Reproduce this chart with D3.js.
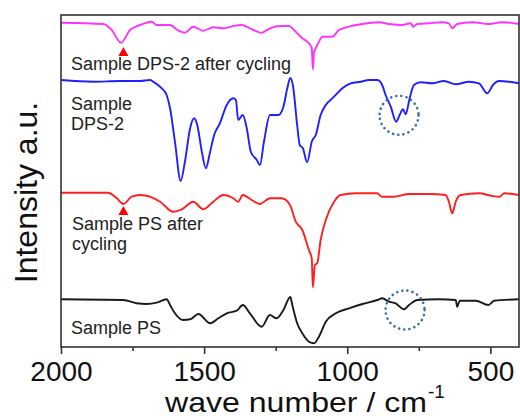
<!DOCTYPE html>
<html><head><meta charset="utf-8">
<script src="https://cdn.jsdelivr.net/npm/d3@7"></script>
<style>body{margin:0;background:#fff}svg{display:block}</style>
</head><body><svg id="c" width="520" height="419"></svg>
<script>
// ---- data (wave number in cm^-1, intensity in offset a.u.) ----
const xTicks = [2000, 1500, 1000, 500];
const xMinorTicks = [1750, 1250, 750];

const dps2CycWn  = [2000,1852,1823,1790,1759,1724,1683,1666,1619,1590,1567,1538,1503,1468,1433,1398,1369,1340,1299,1270,1235,1203,1186,1157,1134,1124,1120,1116,1113,1099,1087,1052,1029,994,947,889,854,808,778,770,755,714,668,645,633,616,563,505,458,400];
const dps2CycInt = [324.3,323,317,304.3,317,322,325.3,322,322,316.3,314.3,320.3,316.3,319.7,318.7,321,322,318.7,314.3,318.7,321,321,317,308.7,303.7,299,277.7,295,297,305.3,310.3,310.3,317,320.3,323,324.7,323,322,323.7,320.3,323,323.7,324.7,323.7,318.7,323,324.7,323,324.7,323];

const dps2Wn  = [2000,1887,1794,1724,1689,1678,1648,1631,1619,1602,1582,1567,1549,1535,1524,1508,1494,1479,1465,1445,1421,1398,1389,1381,1365,1351,1337,1316,1305,1291,1270,1241,1223,1210,1199,1190,1175,1166,1155,1140,1124,1110,1093,1075,1046,1017,988,953,924,895,878,866,848,829,817,805,796,782,767,743,703,662,621,575,540,511,491,470,435,400];
const dps2Int = [267,265.3,266,266,267,265.3,258.7,252,238.7,205.3,166,185.3,218.7,228.7,222,195.3,178.7,195.3,212,223.7,242,248.7,247,227,232,218.7,195.3,187,182,205.3,232,232,240.3,258,269,262,222,202,198.7,184.7,205.3,212,232,242,250.3,258.7,263.7,265.3,267,267,262,252,240.3,225.3,232,237.7,232.7,248.7,262,264.7,263.7,266,262.7,265.3,263.7,253.7,262,266,265.3,263.7];

const psCycWn  = [2000,1835,1805,1782,1753,1724,1689,1654,1608,1578,1538,1503,1468,1433,1398,1381,1365,1334,1305,1270,1229,1200,1180,1157,1134,1124,1120,1113,1105,1093,1075,1046,1023,970,895,880,837,784,714,656,645,633,621,604,540,493,467,452,400];
const psCycInt = [154.3,154.3,148.7,143,150.3,152,150.3,145.3,135.3,137.7,145.3,137.7,145.3,152,148.7,145.3,152,147,143,148.7,148.7,142,125.3,117,97,88.7,59.7,82,83.7,107,127,145.3,152,153.7,153.7,150.3,150.3,153,153,152,145.3,133.7,145.3,152,153.7,151,150.3,153.7,152];

const psWn  = [2000,1782,1736,1701,1666,1631,1619,1602,1573,1549,1520,1479,1450,1421,1386,1365,1340,1299,1270,1247,1223,1199,1192,1175,1157,1134,1116,1099,1075,1040,994,947,895,878,854,831,802,784,755,680,621,616,607,551,507,487,400];
const psInt = [47.7,47,43.7,43,44.3,47.7,42,33.7,27,27.7,33,23.7,28.7,33.7,36.3,42,33.7,20.3,32,28.7,37,50,42,23.7,13.7,5.3,3.7,10.3,25.3,33.7,38.7,43,47,48.7,45.3,43.7,37.7,42,47,47.7,47,40.3,46.3,46.3,42,46.3,47.7];

const seriesNames  = ["Sample DPS-2 after cycling", "Sample DPS-2", "Sample PS after cycling", "Sample PS"];
const seriesColors = ["#ff33ff", "#1f1fff", "#ff1f1f", "#1a1a1a"];
const markerWn = [1782, 1782];      // red triangle markers
const markerInt = [300, 141];
const circleWn = [819, 798];        // dotted circles
const circleInt = [231.7, 37];

// ---- chart ----
const svg = d3.select("#c");
const x = d3.scaleLinear().domain([2000, 400]).range([61, 519]);
const y = d3.scaleLinear().domain([0, 332]).range([347, 15]);
const font = "'Liberation Sans', Arial, sans-serif";

const series = [
  [dps2CycWn, dps2CycInt], [dps2Wn, dps2Int], [psCycWn, psCycInt], [psWn, psInt]
];
const line = d3.line().x(d => x(d[0])).y(d => y(d[1])).curve(d3.curveMonotoneX);
series.forEach((s, i) => {
  const pts = s[0].map((w, j) => [w, s[1][j]]);
  svg.append("path").attr("d", line(pts)).attr("fill", "none")
    .attr("stroke", seriesColors[i]).attr("stroke-width", 1.9)
    .attr("stroke-linejoin", "round");
});

// frame
svg.append("rect").attr("x", 61).attr("y", 15).attr("width", 458).attr("height", 332)
  .attr("fill", "none").attr("stroke", "#333").attr("stroke-width", 1.6);

// x axis
const ax = svg.append("g").attr("transform", "translate(0,347)")
  .call(d3.axisBottom(x).tickValues(xTicks).tickSize(7).tickFormat(d3.format("d")));
ax.select(".domain").remove();
ax.selectAll("line").attr("stroke", "#333").attr("stroke-width", 1.6);
ax.selectAll("text").attr("y", 34).attr("dy", null)
  .style("font-family", font).style("font-size", "28px").attr("fill", "#111");
const axm = svg.append("g").attr("transform", "translate(0,347)")
  .call(d3.axisBottom(x).tickValues(xMinorTicks).tickSize(4).tickFormat(""));
axm.select(".domain").remove();
axm.selectAll("line").attr("stroke", "#333").attr("stroke-width", 1.6);

// axis titles
svg.append("text").attr("x", 165).attr("y", 412)
  .style("font-family", font).style("font-size", "28px").attr("fill", "#111")
  .attr("textLength", 262).attr("lengthAdjust", "spacingAndGlyphs")
  .text("wave number / cm");
svg.append("text").attr("x", 428).attr("y", 398)
  .style("font-family", font).style("font-size", "19px").attr("fill", "#111").text("-1");

svg.append("text").attr("transform", "translate(37,192.5) rotate(-90)")
  .attr("text-anchor", "middle").style("font-family", font).style("font-size", "32px")
  .attr("fill", "#111").text("Intensity a.u.");

// series labels
const labels = [
  {t: seriesNames[0], x: 71, y: 70},
  {t: "Sample", x: 71, y: 110},
  {t: "DPS-2", x: 71, y: 130},
  {t: "Sample PS after", x: 72, y: 230},
  {t: "cycling", x: 72, y: 250},
  {t: seriesNames[3], x: 71, y: 334}
];
svg.selectAll("text.lab").data(labels).join("text").attr("class", "lab")
  .attr("x", d => d.x).attr("y", d => d.y).text(d => d.t)
  .style("font-family", font).style("font-size", "18px").attr("fill", "#222");

// triangles
markerWn.forEach((w, i) => {
  const cx = x(w), cy = y(markerInt[i]);
  svg.append("path").attr("d", `M${cx},${cy} L${cx+5},${cy+9} L${cx-5},${cy+9} Z`)
    .attr("fill", "#ff0000");
});

// dotted circles
circleWn.forEach((w, i) => {
  svg.append("circle").attr("cx", x(w)).attr("cy", y(circleInt[i])).attr("r", 19.5)
    .attr("fill", "none").attr("stroke", "#3d6ea8").attr("stroke-width", 2.6)
    .attr("stroke-linecap", "round").attr("stroke-dasharray", "0.1 5.1");
});
</script></body></html>
